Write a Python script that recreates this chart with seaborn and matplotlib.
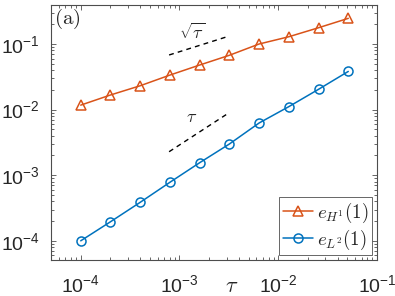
import numpy as np
import pandas as pd
import matplotlib
matplotlib.use("Agg")
import matplotlib.pyplot as plt
from matplotlib.font_manager import FontProperties
import seaborn as sns

# step sizes and errors
tau = [1e-4, 2e-4, 4e-4, 8e-4, 1.6e-3, 3.2e-3, 6.4e-3, 1.28e-2, 2.56e-2, 5.12e-2]
err_h1 = [0.0117, 0.0167, 0.0231, 0.0336, 0.0478, 0.0673, 0.100, 0.129, 0.177, 0.246]
err_l2 = [1.0e-4, 1.95e-4, 3.86e-4, 7.8e-4, 1.55e-3, 2.99e-3, 6.25e-3, 0.0111, 0.0204, 0.0382]

# reference slope guides
guide_x = [7.85e-4, 3.18e-3]
guide_sqrt = [0.068, 0.132]
guide_lin = [2.28e-3, 8.97e-3]

xticks = [1e-4, 1e-3, 1e-2, 1e-1]
yticks = [1e-4, 1e-3, 1e-2, 1e-1]
ticklabels = [r'$10^{-4}$', r'$10^{-3}$', r'$10^{-2}$', r'$10^{-1}$']

sns.set_style("ticks")
plt.rcParams['font.family'] = ['Liberation Sans', 'DejaVu Sans']
plt.rcParams['mathtext.fontset'] = 'custom'
plt.rcParams['mathtext.rm'] = 'Liberation Sans'
plt.rcParams['mathtext.it'] = 'Liberation Sans:italic'

orange = '#D95319'
blue = '#0072BD'
axcol = '#4d4d4d'

df = pd.DataFrame({'tau': tau, 'h1': err_h1, 'l2': err_l2})

fig = plt.figure(figsize=(3.95, 2.96), dpi=100)
ax = fig.add_axes([51/395, 36/296, 326/395, 255.5/296])

sns.lineplot(data=df, x='tau', y='h1', ax=ax, color=orange, marker='^', markersize=7.5,
             mfc='none', mec=orange, mew=1.1, lw=1.1, label=r'$e_{H^1}(1)$')
sns.lineplot(data=df, x='tau', y='l2', ax=ax, color=blue, marker='o', markersize=6.5,
             mfc='none', mec=blue, mew=1.1, lw=1.1, label=r'$e_{L^2}(1)$')

ax.plot(guide_x, guide_sqrt, ls=(0, (3.5, 3)), color='k', lw=1.0)
ax.plot(guide_x, guide_lin, ls=(0, (3.5, 3)), color='k', lw=1.0)

ax.set_xscale('log')
ax.set_yscale('log')
ax.set_xlim(5e-5, 1e-1)
ax.set_ylim(5.1e-5, 0.4)
ax.set_xticks(xticks)
ax.set_yticks(yticks)
ax.set_xticklabels(ticklabels)
ax.set_yticklabels(ticklabels)
ax.tick_params(which='both', direction='in', top=True, right=True, color=axcol,
               labelsize=14, width=0.6)
ax.tick_params(which='major', length=3.5)
ax.tick_params(which='minor', length=2)
ax.tick_params(axis='x', which='major', pad=10.5)
ax.tick_params(axis='y', which='major', pad=8)
for s in ax.spines.values():
    s.set_color(axcol)
    s.set_linewidth(0.8)
ax.set_xlabel('')
ax.set_ylabel('')

cm = FontProperties(family='DejaVu Serif', size=15, math_fontfamily='cm')
ax.text(232/395, 1 - 287/296, r'$\tau$', transform=fig.transFigure, ha='center',
        va='center', fontproperties=FontProperties(size=16, math_fontfamily='cm'))
ax.text(0.008, 0.99, r'$\mathrm{(a)}$', transform=ax.transAxes, ha='left', va='top',
        fontproperties=cm)
ax.text(192/395, 1 - 33/296, r'$\sqrt{\tau}$', transform=fig.transFigure, ha='center',
        va='center', fontproperties=FontProperties(size=13, math_fontfamily='cm'))
ax.text(192/395, 1 - 117/296, r'$\tau$', transform=fig.transFigure, ha='center',
        va='center', fontproperties=FontProperties(size=13, math_fontfamily='cm'))

leg = ax.legend(loc='lower right', prop=FontProperties(size=13.5, math_fontfamily='cm'),
                fancybox=False, framealpha=1, edgecolor=axcol, handlelength=1.6,
                handletextpad=0.2, borderpad=0.2, labelspacing=0.15,
                borderaxespad=0.25)
leg.get_frame().set_linewidth(0.6)

fig.savefig('out.png', dpi=100)
